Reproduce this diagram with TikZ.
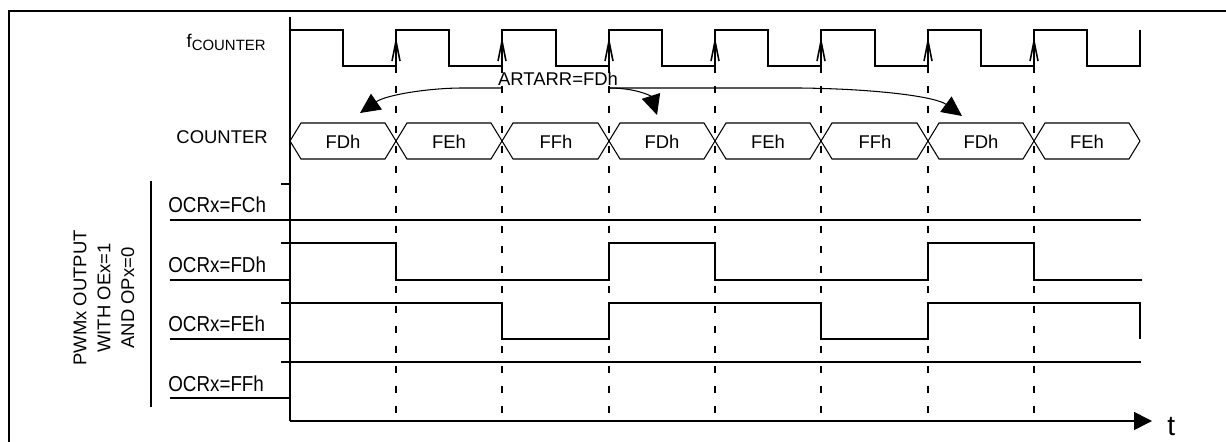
\documentclass[tikz,border=0pt]{standalone}
\usepackage{fontspec}
\setmainfont{Liberation Sans}
\usetikzlibrary{arrows.meta}

\begin{document}
\begin{tikzpicture}[
  x=0.02cm, y=-0.02cm,
  sigline/.style={line width=0.9pt},
  busline/.style={line width=0.6pt},
  edgeline/.style={line width=1pt, dash pattern=on 0.14cm off 0.26cm},
  lbl/.style={font=\fontsize{10.5}{13.6}\selectfont, inner sep=0pt},
  ocrlbl/.style={font=\fontsize{10.7}{13.6}\selectfont, inner sep=0pt, anchor=base west},
  reload/.style={line width=0.6pt, -{Triangle[length=0.4cm, width=0.38cm]}},
  clkedge/.style={line width=0.9pt, -{Straight Barb[length=0.4cm, width=0.16cm]}},
]

%% ─── 座標系 ────────────────────────────────────────────────
%%  1 単位 = 1 px（y は下向き）、全体 1226 x 442
%%  立ち上がりエッジ x = 396, 502, 609, 715, 821, 928, 1034

\useasboundingbox (0,0) rectangle (1226,442);

% ── 外枠 ────────────────────────────────────────────────────
\draw[sigline] (9,442) -- (9,11) -- (1226,11);

% ── 軸 ──────────────────────────────────────────────────────
\draw[sigline] (290,17) -- (290,421);
\draw[sigline, -{Triangle[length=0.36cm, width=0.36cm]}] (290,421) -- (1152,421);
\node[font=\fontsize{16}{17}\selectfont, inner sep=0pt, anchor=base west] (tlbl) at (1167,435) {t};

% ── エッジ位置の縦破線 ──────────────────────────────────────
\draw[edgeline] (396,66) -- (396,421);
\draw[edgeline] (502,66) -- (502,421);
\draw[edgeline] (609,66) -- (609,421);
\draw[edgeline] (715,66) -- (715,421);
\draw[edgeline] (821,66) -- (821,421);
\draw[edgeline] (928,66) -- (928,421);
\draw[edgeline] (1034,66) -- (1034,421);

% ════════════════════════════════════════════════════════════
%  f_COUNTER クロック
% ════════════════════════════════════════════════════════════
\node[lbl, anchor=base east] (fclk) at (266,48)
  {f\raisebox{-1.2pt}{\fontsize{8.5}{10}\selectfont COUNTER}};
\draw[sigline] (290,30) -- (343,30) -- (343,66) -- (396,66)
  -- (396,30) -- (449,30) -- (449,66) -- (502,66)
  -- (502,30) -- (556,30) -- (556,66) -- (609,66)
  -- (609,30) -- (662,30) -- (662,66) -- (715,66)
  -- (715,30) -- (768,30) -- (768,66) -- (821,66)
  -- (821,30) -- (875,30) -- (875,66) -- (928,66)
  -- (928,30) -- (981,30) -- (981,66) -- (1034,66)
  -- (1034,30) -- (1087,30) -- (1087,66) -- (1140,66)
  -- (1140,30);
% 立ち上がり矢印
\draw[clkedge] (396,66) -- (396,37);
\draw[clkedge] (502,66) -- (502,37);
\draw[clkedge] (609,66) -- (609,37);
\draw[clkedge] (715,66) -- (715,37);
\draw[clkedge] (821,66) -- (821,37);
\draw[clkedge] (928,66) -- (928,37);
\draw[clkedge] (1034,66) -- (1034,37);

% ════════════════════════════════════════════════════════════
%  COUNTER バス
% ════════════════════════════════════════════════════════════
\node[lbl, anchor=base east] (cntlbl) at (268,144) {COUNTER};
\draw[busline] (290,141) -- (301,123) -- (385,123) -- (396,141)
  -- (407,123) -- (491,123) -- (502,141) -- (513,123) -- (598,123)
  -- (609,141) -- (620,123) -- (704,123) -- (715,141) -- (726,123)
  -- (810,123) -- (821,141) -- (832,123) -- (917,123) -- (928,141)
  -- (939,123) -- (1023,123) -- (1034,141) -- (1045,123) -- (1129,123)
  -- (1140,141);
\draw[busline] (290,141) -- (301,159) -- (385,159) -- (396,141)
  -- (407,159) -- (491,159) -- (502,141) -- (513,159) -- (598,159)
  -- (609,141) -- (620,159) -- (704,159) -- (715,141) -- (726,159)
  -- (810,159) -- (821,141) -- (832,159) -- (917,159) -- (928,141)
  -- (939,159) -- (1023,159) -- (1034,141) -- (1045,159) -- (1129,159)
  -- (1140,141);
\node[lbl, anchor=base] (cnt1) at (343,149)  {FDh};
\node[lbl, anchor=base] (cnt2) at (449,149)  {FEh};
\node[lbl, anchor=base] (cnt3) at (556,149)  {FFh};
\node[lbl, anchor=base] (cnt4) at (662,149)  {FDh};
\node[lbl, anchor=base] (cnt5) at (768,149)  {FEh};
\node[lbl, anchor=base] (cnt6) at (875,149)  {FFh};
\node[lbl, anchor=base] (cnt7) at (981,149)  {FDh};
\node[lbl, anchor=base] (cnt8) at (1087,149) {FEh};

% ── ARTARR リロード矢印 ─────────────────────────────────────
\node[lbl, anchor=base] (artarr) at (558,86) {ARTARR=FDh};
\coordinate (artL) at (502,88);
\coordinate (artR) at (609,88);
\coordinate (tip1) at (360,113);
\coordinate (tip4) at (657,115);
\coordinate (tip7) at (962,116);
\draw[reload] (artL) -- (463,88) .. controls (428,88) and (386,95) .. (tip1);
\draw[reload] (artR) .. controls (636,88) and (651,96) .. (tip4);
\draw[reload] (artR) -- (800,88) .. controls (880,89) and (936,97) .. (tip7);

% ════════════════════════════════════════════════════════════
%  PWMx 出力
% ════════════════════════════════════════════════════════════
\draw[sigline] (151,181) -- (151,407);
\node[lbl, rotate=90, align=center] (pwmlbl) at (104,298)
  {PWMx OUTPUT\\WITH OEx=1\\AND OPx=0};

% ── OCRx=FCh ───────────────────────────────────────────────
\node[ocrlbl] (ocrC) at (168,213) {\scalebox{1}[1.15]{OCRx=FCh}};
\draw[sigline] (281,184) -- (290,184);
\draw[sigline] (170,220) -- (1141,220);

% ── OCRx=FDh ───────────────────────────────────────────────
\node[ocrlbl] (ocrD) at (168,272) {\scalebox{1}[1.15]{OCRx=FDh}};
\draw[sigline] (170,280) -- (290,280);
\draw[sigline] (281,243) -- (396,243) -- (396,280) -- (609,280)
  -- (609,243) -- (715,243) -- (715,280) -- (928,280)
  -- (928,243) -- (1034,243) -- (1034,280) -- (1142,280);

% ── OCRx=FEh ───────────────────────────────────────────────
\node[ocrlbl] (ocrE) at (168,331) {\scalebox{1}[1.15]{OCRx=FEh}};
\draw[sigline] (170,339) -- (290,339);
\draw[sigline] (281,303) -- (502,303) -- (502,339) -- (609,339)
  -- (609,303) -- (821,303) -- (821,339) -- (928,339)
  -- (928,303) -- (1140,303) -- (1140,339);

% ── OCRx=FFh ───────────────────────────────────────────────
\node[ocrlbl] (ocrF) at (168,391) {\scalebox{1}[1.15]{OCRx=FFh}};
\draw[sigline] (170,398) -- (290,398);
\draw[sigline] (281,362) -- (1141,362);

\end{tikzpicture}
\end{document}
